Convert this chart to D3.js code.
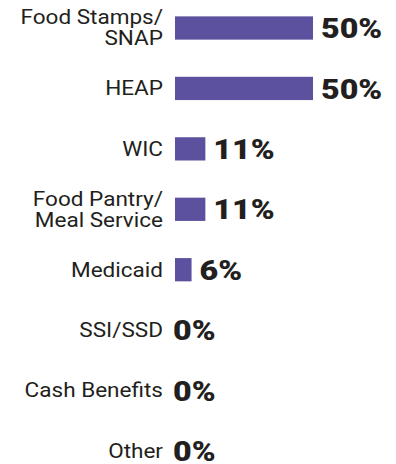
<!DOCTYPE html>
<html>
<head>
<meta charset="utf-8">
<script src="https://cdn.jsdelivr.net/npm/d3@7"></script>
<style>
  html, body { margin: 0; padding: 0; background: #ffffff; }
  svg { display: block; }
</style>
</head>
<body>
<script>
// Share of respondents receiving each benefit
const categories = [
  ["Food Stamps/", "SNAP"],
  ["HEAP"],
  ["WIC"],
  ["Food Pantry/", "Meal Service"],
  ["Medicaid"],
  ["SSI/SSD"],
  ["Cash Benefits"],
  ["Other"]
];
const values = [50, 50, 11, 11, 6, 0, 0, 0];

const width = 396, height = 464;
const barColor = "#5b519f";
const textColor = "#231f20";
const stretch = 1.15;   // wide-set lettering

const keys = categories.map(c => c.join(" "));
const rows = keys.map((k, i) => ({ key: k, lines: categories[i], value: values[i] }));

const svg = d3.select("body").append("svg")
  .attr("width", width)
  .attr("height", height);

const x = d3.scaleLinear().domain([0, 100]).range([175, 451]);
const y = d3.scaleBand().domain(keys)
  .range([-2.2, 481.2])
  .paddingInner(0.615)
  .paddingOuter(0.3075);

const row = svg.selectAll("g.row").data(rows).join("g")
  .attr("class", "row")
  .attr("transform", d => `translate(0,${y(d.key) + y.bandwidth() / 2})`);

// category labels, right-aligned left of the bars
const labels = row.append("g")
  .attr("transform", `translate(${x(0) - 12},0) scale(${stretch},1)`)
  .append("text")
  .attr("text-anchor", "end")
  .attr("fill", textColor)
  .style("font-family", "Roboto, 'Noto Sans', sans-serif")
  .style("font-size", "19.6px");

const lineH = 21;
labels.selectAll("tspan").data(d => d.lines.map((t, i) => ({ t, i, n: d.lines.length })))
  .join("tspan")
  .attr("x", 0)
  .attr("y", d => (d.i - (d.n - 1) / 2) * lineH)
  .attr("dy", "0.35em")
  .text(d => d.t);

// bars
row.filter(d => d.value > 0).append("rect")
  .attr("x", x(0))
  .attr("y", -y.bandwidth() / 2)
  .attr("width", d => x(d.value) - x(0))
  .attr("height", y.bandwidth())
  .attr("fill", barColor);

// value labels
row.append("g")
  .attr("transform", d => `translate(${d.value > 0 ? x(d.value) + 8 : x(0) - 2},0) scale(${stretch},1)`)
  .append("text")
  .attr("dy", "0.36em")
  .attr("fill", textColor)
  .style("font-family", "Roboto, 'Noto Sans', sans-serif")
  .style("font-weight", 900)
  .style("font-size", "28px")
  .text(d => d.value + "%");
</script>
</body>
</html>
